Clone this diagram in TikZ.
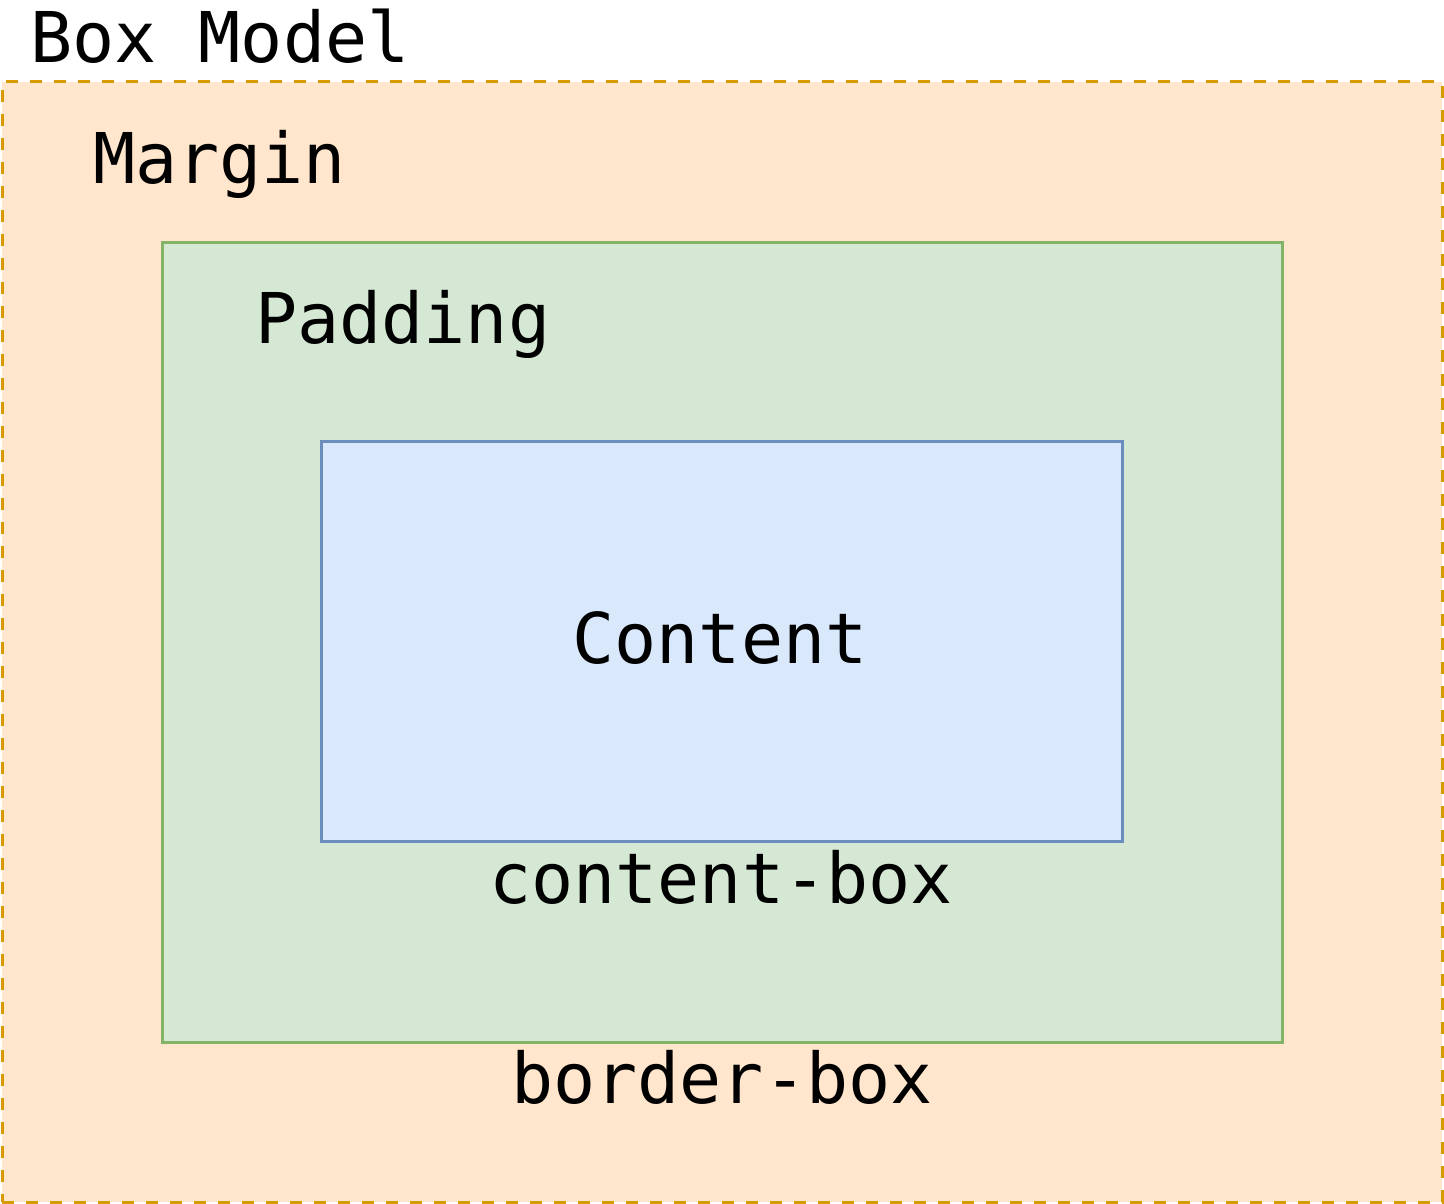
\documentclass[tikz,border=0pt]{standalone}
\usepackage{fontspec}
\setmonofont{DejaVu Sans Mono}
\definecolor{mfill}{HTML}{FFE6CC}
\definecolor{mline}{HTML}{D79B00}
\definecolor{pfill}{HTML}{D5E8D4}
\definecolor{pline}{HTML}{82B366}
\definecolor{cfill}{HTML}{DAE8FC}
\definecolor{cline}{HTML}{6C8EBF}
\tikzset{
  box/.style={rectangle, inner sep=0pt, line width=3pt},
  lbl/.style={inner sep=0pt, font=\fontsize{70}{84}\selectfont\ttfamily, text=black},
}
\begin{document}
\begin{tikzpicture}[x=1pt,y=-1pt]
\useasboundingbox (0,0) rectangle (1444,1204);
\node[box, fill=mfill, draw=mline, dash pattern=on 12pt off 12pt, minimum width=1440pt, minimum height=1120pt] (margin) at (722,642) {};
\node[box, fill=pfill, draw=pline, minimum width=1120pt, minimum height=800pt] (padding) at (722,642) {};
\node[box, fill=cfill, draw=cline, minimum width=801pt, minimum height=400pt] (content) at (721.5,641) {};
\node[lbl, anchor=base west] (title) at (30,63) {Box Model};
\node[lbl, anchor=base west] (marginlbl) at (93,183) {Margin};
\node[lbl, anchor=base west] (paddinglbl) at (255,343) {Padding};
\node[lbl, anchor=base] (contentlbl) at (720,663) {Content};
\node[lbl, anchor=base] (contentbox) at (721,903) {content-box};
\node[lbl, anchor=base] (borderbox) at (722,1103) {border-box};
\end{tikzpicture}
\end{document}
